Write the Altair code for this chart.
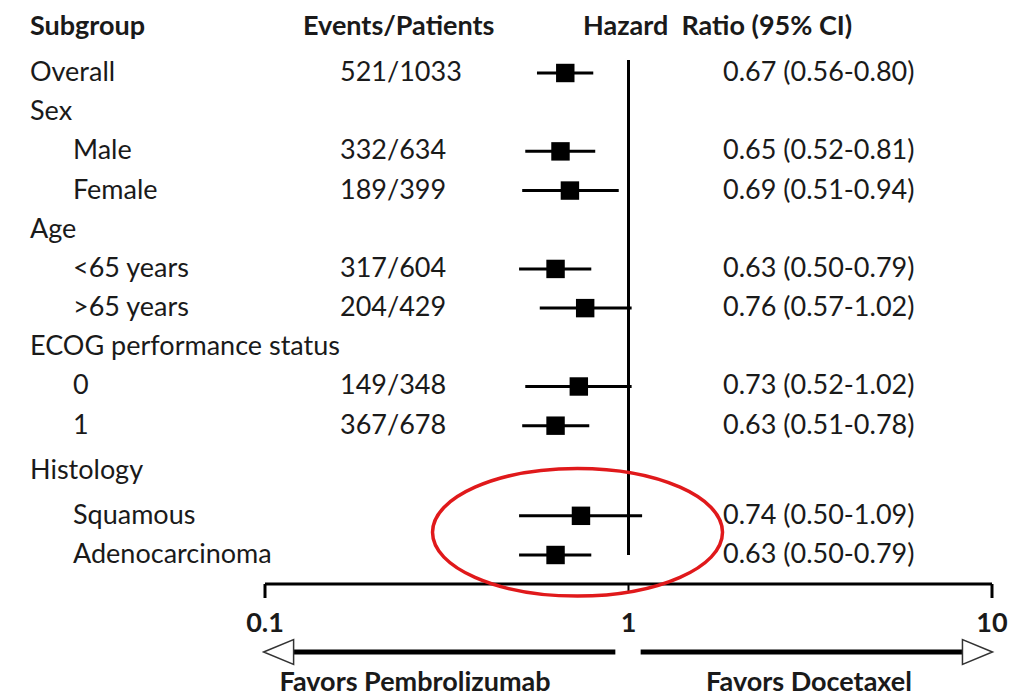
import altair as alt
import pandas as pd

# ---- forest plot data -------------------------------------------------------
subgroups = ["Overall", "Sex", "Male", "Female", "Age", "<65 years", ">65 years",
             "ECOG performance status", "0", "1", "Histology", "Squamous",
             "Adenocarcinoma"]
indent = [0, 0, 1, 1, 0, 1, 1, 0, 1, 1, 0, 1, 1]
events = ["521/1033", "", "332/634", "189/399", "", "317/604", "204/429", "",
          "149/348", "367/678", "", "", ""]
hr = [0.67, None, 0.65, 0.69, None, 0.63, 0.76, None, 0.73, 0.63, None, 0.74, 0.63]
ci_low = [0.56, None, 0.52, 0.51, None, 0.50, 0.57, None, 0.52, 0.51, None, 0.50, 0.50]
ci_high = [0.80, None, 0.81, 0.94, None, 0.79, 1.02, None, 1.02, 0.78, None, 1.09, 0.79]

axis_ticks = [0.1, 1, 10]

# the histology block sits a little further down than the rest
extra_gap = [0] * 10 + [0.15, 0.3, 0.3]
rows = [i + g for i, g in enumerate(extra_gap)]

df = pd.DataFrame({
    "label": subgroups, "indent": indent, "events": events,
    "hr": hr, "lo": ci_low, "hi": ci_high, "row": rows,
})
df["hr_text"] = [
    f"{h:.2f} ({l:.2f}-{u:.2f})" if pd.notna(h) else ""
    for h, l, u in zip(df["hr"], df["lo"], df["hi"])
]
est = df.dropna(subset=["hr"])

FONT = "Lato"
INK = "#1a1a1a"
FS = 27

xs = alt.Scale(type="log", domain=[0.1, 10], range=[265, 992])
ys = alt.Scale(domain=[0, 12.3], range=[73, 555])
X = lambda f: alt.X(f, type="quantitative", scale=xs, axis=None)
Y = alt.Y("row:Q", scale=ys, axis=None)

base = alt.Chart(df)

# vertical line of no effect
ref = alt.Chart(pd.DataFrame({"v": [1]})).mark_rule(color="black", strokeWidth=3).encode(
    x=X("v"), y=alt.value(60), y2=alt.value(555))

ci = alt.Chart(est).mark_rule(color="black", strokeWidth=3).encode(
    x=X("lo"), x2="hi:Q", y=Y)
sq = alt.Chart(est).mark_square(color="black", opacity=1, size=340).encode(
    x=X("hr"), y=Y)

txt = dict(font=FONT, fontSize=FS, color=INK, baseline="middle", align="left")
lab0 = base.transform_filter("datum.indent == 0").mark_text(**txt).encode(
    x=alt.value(30), y=Y, text="label:N")
lab1 = base.transform_filter("datum.indent == 1").mark_text(**txt).encode(
    x=alt.value(73), y=Y, text="label:N")
ev = base.mark_text(**txt).encode(x=alt.value(340), y=Y, text="events:N")
hrt = base.mark_text(**txt).encode(x=alt.value(723), y=Y, text="hr_text:N")

hdr = dict(font=FONT, fontSize=FS, fontWeight="bold", color=INK,
           baseline="middle", align="left")
headers = alt.Chart(pd.DataFrame({"h": ["Subgroup", "Events/Patients",
                                        "Hazard\u00a0 Ratio (95% CI)"],
                                  "c": [0, 1, 2]}))
h_layers = [
    headers.transform_filter(f"datum.c == {c}").mark_text(**hdr).encode(
        x=alt.value(px), y=alt.value(27), text="h:N")
    for c, px in zip([0, 1, 2], [30, 303, 583])
]

# bottom axis drawn by hand so the centre tick can be shorter
tick_df = pd.DataFrame({"t": axis_ticks})
axis_line = alt.Chart(pd.DataFrame({"a": [0.1], "b": [10]})).mark_rule(
    color="black", strokeWidth=3).encode(x=X("a"), x2="b:Q", y=alt.value(584))
end_ticks = alt.Chart(tick_df).transform_filter("datum.t != 1").mark_rule(
    color="black", strokeWidth=3).encode(x=X("t"), y=alt.value(584), y2=alt.value(598))
mid_tick = alt.Chart(tick_df).transform_filter("datum.t == 1").mark_rule(
    color="black", strokeWidth=2).encode(x=X("t"), y=alt.value(584), y2=alt.value(592))
tick_lab = alt.Chart(tick_df).mark_text(
    font=FONT, fontSize=FS, fontWeight="bold", color=INK, baseline="middle").encode(
    x=X("t"), y=alt.value(624), text=alt.Text("t:Q", format="~g"))

# direction arrows
arrows = pd.DataFrame({"a": [0.12, 1.08], "b": [0.92, 8.3]})
arrow_lines = alt.Chart(arrows).mark_rule(color="black", strokeWidth=5).encode(
    x=X("a"), x2="b:Q", y=alt.value(652))
head_l = alt.Chart(pd.DataFrame({"p": [0.109]})).mark_point(
    shape="M -1 0 L 1 -0.83 L 1 0.83 Z", size=900, filled=True, fill="white",
    stroke="#333333", strokeWidth=1.5, opacity=1).encode(x=X("p"), y=alt.value(652))
head_r = alt.Chart(pd.DataFrame({"p": [9.12]})).mark_point(
    shape="M 1 0 L -1 -0.83 L -1 0.83 Z", size=900, filled=True, fill="white",
    stroke="#333333", strokeWidth=1.5, opacity=1).encode(x=X("p"), y=alt.value(652))

fav = alt.Chart(pd.DataFrame({"f": ["Favors Pembrolizumab", "Favors Docetaxel"],
                              "c": [0, 1]}))
fav_layers = [
    fav.transform_filter(f"datum.c == {c}").mark_text(
        font=FONT, fontSize=FS, fontWeight="bold", color=INK,
        baseline="middle", align="center").encode(
        x=alt.value(px), y=alt.value(683), text="f:N")
    for c, px in zip([0, 1], [415, 809])
]

# red highlight around the histology subgroups
ring = alt.Chart(pd.DataFrame({"p": [0.724], "row": [11.72]})).mark_point(
    shape="M -1 0 A 1 0.44 0 1 0 1 0 A 1 0.44 0 1 0 -1 0 Z",
    size=84100, filled=False, stroke="#e0191b", strokeWidth=3.5, opacity=1).encode(
    x=X("p"), y=Y)

chart = alt.layer(
    ref, ci, sq, lab0, lab1, ev, hrt, *h_layers,
    axis_line, end_ticks, mid_tick, tick_lab,
    arrow_lines, head_l, head_r, *fav_layers, ring,
).properties(
    width=1025, height=696, autosize=alt.AutoSizeParams(type="none"),
    padding=0, background="white",
).configure_view(stroke=None)

chart.save("out.html", embed_options={"renderer": "svg", "actions": False})
